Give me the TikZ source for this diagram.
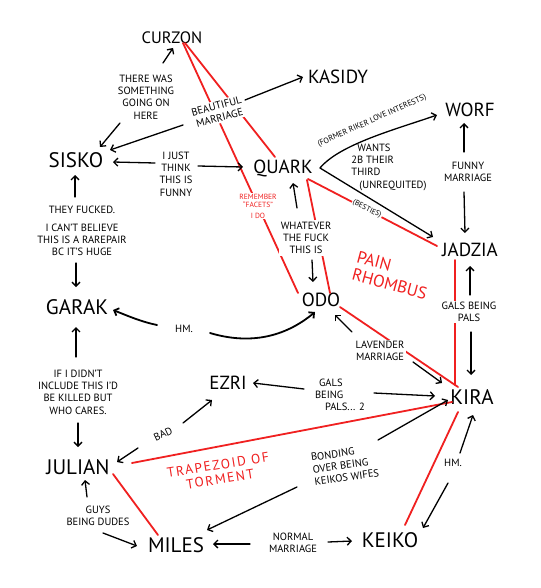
\documentclass[tikz,border=0pt]{standalone}
\usepackage{fontspec}
\setmainfont{PT Sans}
\usetikzlibrary{arrows.meta,calc}
\definecolor{pain}{RGB}{240,32,32}
\begin{document}
\begin{tikzpicture}[x=1pt,y=-1pt,
  person/.style={font=\fontsize{19}{20}\selectfont, inner sep=2pt},
  bigperson/.style={font=\fontsize{21}{22}\selectfont, inner sep=2pt},
  lbl/.style={font=\fontsize{10.5}{12.3}\selectfont, align=center, fill=white, inner sep=1.5pt},
  tinylbl/.style={font=\fontsize{8}{9}\selectfont, inner sep=1pt, fill=white},
  arr/.style={-{Straight Barb[length=4pt,width=8pt]}, line width=1.3pt, line cap=round},
  redln/.style={draw=pain, line width=1.8pt, line cap=round},
  redtxt/.style={text=pain, align=left}
]
\useasboundingbox[fill=white] (0,0) rectangle (540,588);

% people
\node[person, font=\fontsize{16.5}{18}\selectfont] (curzon) at (172,38) {CURZON};
\node[person] (kasidy) at (338,77) {KASIDY};
\node[person] (worf) at (470,110) {WORF};
\node[bigperson] (sisko) at (76,160) {SISKO};
\node[person] (quark) at (283,168) {QUARK};
\node[person] (jadzia) at (470,250) {JADZIA};
\node[bigperson] (garak) at (77,307) {GARAK};
\node[person] (odo) at (321,300) {ODO};
\node[person] (ezri) at (228,383) {EZRI};
\node[bigperson] (kira) at (472,397) {KIRA};
\node[bigperson] (julian) at (78,467) {JULIAN};
\node[bigperson] (miles) at (176,545) {MILES};
\node[bigperson] (keiko) at (390,540) {KEIKO};

% red lines
\draw[redln] ($(curzon)+(13,5)$) -- ($(quark)+(-8,-11)$);
\draw[redln] ($(curzon)+(11,5)$) -- ($(odo)+(-23,-7)$);
\draw[redln] ($(quark)+(24,12)$) -- ($(odo)+(9,-7)$);
\draw[redln] ($(quark)+(25,11)$) -- ($(jadzia)+(-33,-4)$);
\draw[redln] ($(jadzia)+(-15,10)$) -- ($(kira)+(-17,-12)$);
\draw[redln] ($(odo)+(19,7)$) -- ($(kira)+(-14,-10)$);
\draw[redln] ($(julian)+(54,-4)$) -- ($(kira)+(-20,5)$);
\draw[redln] ($(julian)+(35,7)$) -- ($(miles)+(-18,-10)$);
\draw[redln] ($(kira)+(-14,15)$) -- ($(keiko)+(15,-15)$);

% labels
\node[lbl] (lbl1) at (146,97) {THERE WAS\\SOMETHING\\GOING ON\\HERE};
\node[lbl, rotate=15] (lbl2) at (218,112) {BEAUTIFUL\\MARRIAGE};
\node[lbl] (lbl3) at (176,174) {I JUST\\THINK\\THIS IS\\FUNNY};
\node[lbl] (lbl4) at (82,231) {THEY FUCKED.\\[5pt]I CAN'T BELIEVE\\THIS IS A RAREPAIR\\BC IT'S HUGE};
\node[lbl] (lbl5) at (184,329) {HM.};
\node[lbl] (lbl6) at (78,392) {IF I DIDN'T\\INCLUDE THIS I'D\\BE KILLED BUT\\WHO CARES.};
\node[lbl, rotate=25] (lbl7) at (163,434) {BAD};
\node[lbl, align=left] (lbl8) at (340,395) {\hspace{4pt}GALS\\BEING\\\hspace{10pt}PALS... 2};
\node[lbl] (lbl9) at (98,516) {GUYS\\BEING DUDES};
\node[lbl] (lbl10) at (293,543) {NORMAL\\MARRIAGE};
\node[lbl, align=left, rotate=8] (lbl11) at (345,465) {BONDING\\OVER BEING\\KEIKOS WIFES};
\node[lbl] (lbl12) at (453,463) {HM.};
\node[lbl] (lbl13) at (469,312) {GALS BEING\\PALS};
\node[lbl] (lbl14) at (468,172) {FUNNY\\MARRIAGE};
\node[lbl, align=left] (lbl15) at (389,167) {\hspace{6pt}WANTS\\2B THEIR\\THIRD\\\hspace{8pt}(UNREQUITED)};
\node[lbl] (lbl16) at (306,238) {WHATEVER\\THE FUCK\\THIS IS};
\node[lbl] (lbl17) at (380,351) {LAVENDER\\MARRIAGE};
\node[tinylbl, rotate=24] (lbl18) at (372,121) {(FORMER RIKER LOVE INTERESTS)};
\node[tinylbl, rotate=-27, font=\fontsize{7.5}{8}\selectfont] (besties) at (367,209) {(BESTIES)};
\node[tinylbl, text=pain, align=center, font=\fontsize{7.5}{8.5}\selectfont] (remember) at (258,206) {REMEMBER\\``FACETS''\\[2pt]I DO};

% black arrows
\draw[arr] ($(lbl1)+(17,-34)$) -- ($(curzon)+(1,10)$);
\draw[arr] ($(lbl1)+(-26,26)$) -- ($(sisko)+(24,-13)$);
\draw[arr] ($(lbl2)+(-35,13)$) -- ($(sisko)+(34,-10)$);
\draw[arr] ($(lbl2)+(27,-12)$) -- ($(kasidy)+(-35,0)$);
\draw[arr] ($(lbl3)+(-21,-11)$) -- ($(sisko)+(37,2)$);
\draw[arr] ($(lbl3)+(22,-8)$) -- ($(quark)+(-40,-1)$);
\draw[arr] ($(lbl4)+(-7,-34)$) -- ($(sisko)+(-1,15)$);
\draw[arr] ($(lbl4)+(-6,32)$) -- ($(garak)+(-1,-20)$);
\draw[arr, line width=1.8pt] ($(lbl5)+(-27,-4)$) .. controls +(-15,-3) and +(15,6) .. ($(garak)+(36,3)$);
\draw[arr, line width=1.8pt] ($(lbl5)+(26,4)$) .. controls +(40,12) and +(-30,25) .. ($(odo)+(-6,12)$);
\draw[arr] ($(lbl6)+(-2,-35)$) -- ($(garak)+(-1,20)$);
\draw[arr] ($(lbl6)+(0,31)$) -- ($(julian)+(0,-20)$);
\draw[arr] ($(lbl7)+(20,-11)$) -- ($(ezri)+(-16,17)$);
\draw[arr] ($(lbl7)+(-25,14)$) -- ($(julian)+(39,-5)$);
\draw[arr] ($(lbl8)+(-36,-6)$) -- ($(ezri)+(25,0)$);
\draw[arr] ($(lbl8)+(34,-2)$) -- ($(kira)+(-37,-1)$);
\draw[arr] ($(lbl9)+(-11,-19)$) -- ($(julian)+(7,13)$);
\draw[arr] ($(lbl9)+(5,17)$) -- ($(miles)+(-39,1)$);
\draw[arr] ($(lbl10)+(-43,1)$) -- ($(miles)+(37,-1)$);
\draw[arr] ($(lbl10)+(35,-1)$) -- ($(keiko)+(-38,1)$);
\draw[arr] ($(lbl11)+(33,-25)$) -- ($(kira)+(-24,3)$);
\draw[arr] ($(lbl11)+(-48,22)$) -- ($(miles)+(31,-15)$);
\draw[arr] ($(lbl12)+(7,-10)$) -- ($(kira)+(1,18)$);
\draw[arr] ($(lbl12)+(-5,20)$) -- ($(keiko)+(33,-12)$);
\draw[arr] ($(lbl13)+(1,-17)$) -- ($(jadzia)+(0,16)$);
\draw[arr] ($(lbl13)+(2,20)$) -- ($(kira)+(-1,-22)$);
\draw[arr] ($(lbl14)+(-4,-20)$) -- ($(worf)+(-6,13)$);
\draw[arr] ($(lbl14)+(-4,20)$) -- ($(jadzia)+(-5,-17)$);
\draw[arr] ($(quark)+(37,0)$) .. controls +(20,-24) and +(-40,14) .. ($(worf)+(-33,5)$);
\draw[arr] ($(quark)+(37,0)$) -- ($(jadzia)+(-37,-13)$);
\draw[arr] ($(lbl16)+(-9,-30)$) -- ($(quark)+(10,15)$);
\draw[arr] ($(lbl16)+(6,22)$) -- ($(odo)+(-8,-18)$);
\draw[arr] ($(lbl17)+(-28,-19)$) -- ($(odo)+(14,15)$);
\draw[arr] ($(lbl17)+(33,11)$) -- ($(kira)+(-30,-14)$);

% red titles
\node[redtxt, rotate=-15, font=\fontsize{17}{18}\selectfont] (painr) at (392,275) {PAIN\\RHOMBUS};
\node[redtxt, rotate=9, align=center, font=\fontsize{13.5}{14.5}\selectfont\addfontfeatures{LetterSpace=12}] (trap) at (219,472) {TRAPEZOID OF\\TORMENT};
\end{tikzpicture}
\end{document}
